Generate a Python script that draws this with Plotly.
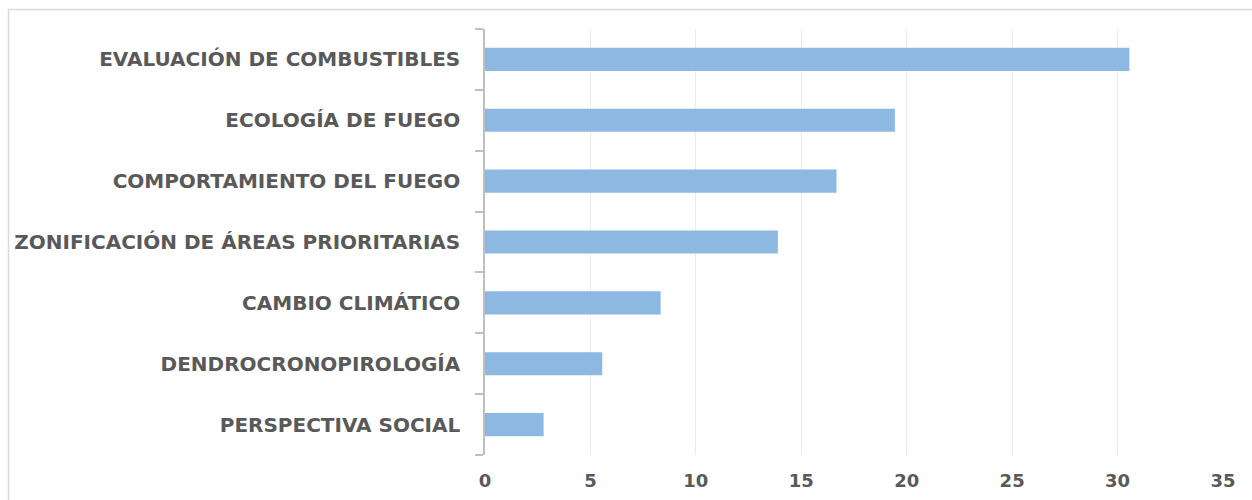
import plotly.graph_objects as go

categories = [
    "PERSPECTIVA SOCIAL",
    "DENDROCRONOPIROLOGÍA",
    "CAMBIO CLIMÁTICO",
    "ZONIFICACIÓN DE ÁREAS PRIORITARIAS",
    "COMPORTAMIENTO DEL FUEGO",
    "ECOLOGÍA DE FUEGO",
    "EVALUACIÓN DE COMBUSTIBLES",
]
values = [2.78, 5.56, 8.33, 13.89, 16.67, 19.44, 30.56]
x_ticks = [0, 5, 10, 15, 20, 25, 30, 35]

W, H = 1252, 500
L, R, T, B = 485, 29, 29, 45
pw, ph = W - L - R, H - T - B

fig = go.Figure(
    go.Bar(
        y=categories,
        x=values,
        orientation="h",
        width=0.38,
        marker=dict(color="#8DB8E2", line=dict(width=0)),
    )
)

font_fam = "DejaVu Sans"
fig.update_layout(
    width=W,
    height=H,
    margin=dict(l=L, r=R, t=T, b=B),
    paper_bgcolor="white",
    plot_bgcolor="white",
    showlegend=False,
    bargap=0.62,
    xaxis=dict(
        range=[0, 35],
        tickvals=x_ticks,
        showgrid=True,
        gridcolor="#EBEBEB",
        gridwidth=1,
        zeroline=False,
        showline=False,
        ticks="",
        tickfont=dict(family=font_fam, size=18, color="#595959", weight="bold"),
        ticklabelstandoff=13,
        automargin=False,
        fixedrange=True,
    ),
    yaxis=dict(
        categoryorder="array",
        categoryarray=categories,
        showgrid=False,
        zeroline=False,
        showline=True,
        linecolor="#BFBFBF",
        linewidth=1.5,
        ticks="outside",
        tickson="boundaries",
        ticklen=8,
        tickcolor="#BFBFBF",
        tickwidth=1.5,
        tickfont=dict(family=font_fam, size=20, color="#595959", weight="bold"),
        ticklabelstandoff=19,
        automargin=False,
        fixedrange=True,
    ),
    shapes=[
        dict(
            type="rect",
            xref="paper",
            yref="paper",
            x0=(8.5 - L) / pw,
            x1=1.2,
            y0=-0.3,
            y1=1 + (T - 9.5) / ph,
            line=dict(color="#D9D9D9", width=1.5),
            fillcolor="rgba(0,0,0,0)",
            layer="below",
        )
    ],
)

fig.write_html("out.html")
